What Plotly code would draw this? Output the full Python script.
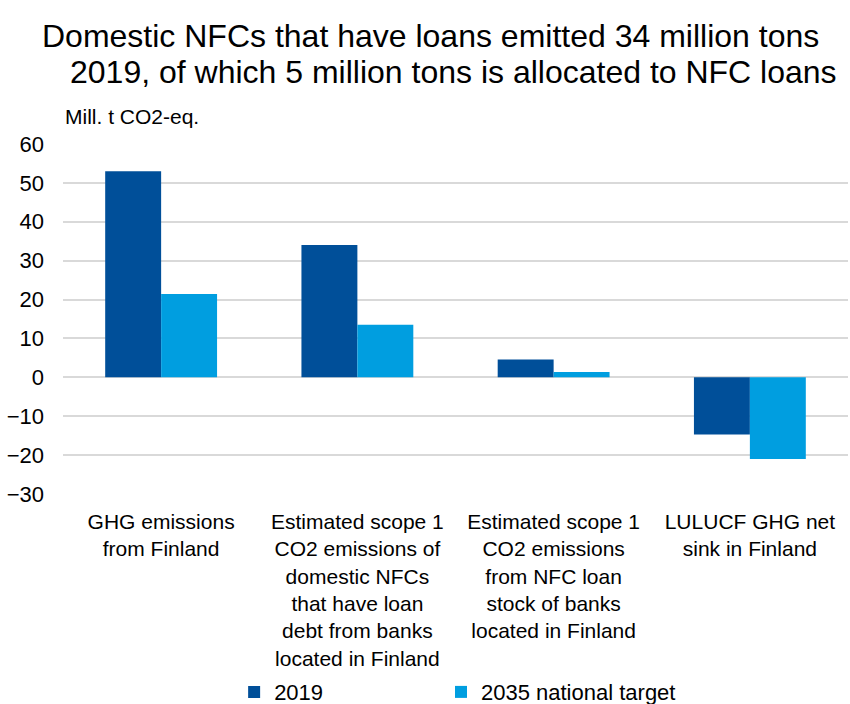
import plotly.graph_objects as go

# Categories and values (million tonnes CO2-eq.)
categories = [
    "GHG emissions<br>from Finland",
    "Estimated scope 1<br>CO2 emissions of<br>domestic NFCs<br>that have loan<br>debt from banks<br>located in Finland",
    "Estimated scope 1<br>CO2 emissions<br>from NFC loan<br>stock of banks<br>located in Finland",
    "LULUCF GHG net<br>sink in Finland",
]
values_2019 = [53.0, 34.0, 4.6, -14.7]
values_2035 = [21.4, 13.5, 1.4, -21.0]
series_names = ["2019", "2035 national target"]
y_ticks = [-30, -20, -10, 0, 10, 20, 30, 40, 50, 60]

DARK = "#004f99"
LIGHT = "#009ee0"
FONT = "Liberation Sans, Arial, sans-serif"

fig = go.Figure()
fig.add_trace(go.Bar(x=categories, y=values_2019, name=series_names[0], legend="legend",
                     marker=dict(color=DARK, line=dict(width=0))))
fig.add_trace(go.Bar(x=categories, y=values_2035, name=series_names[1], legend="legend2",
                     marker=dict(color=LIGHT, line=dict(width=0))))

legend_style = dict(orientation="h", xanchor="left", y=-0.566, yanchor="middle",
                    font=dict(family=FONT, size=22, color="#000000"),
                    itemclick=False, itemdoubleclick=False,
                    bgcolor="rgba(0,0,0,0)")

fig.update_layout(
    width=850, height=704,
    margin=dict(l=63, r=2, t=144, b=210, autoexpand=False),
    paper_bgcolor="white", plot_bgcolor="white",
    barmode="group", bargap=0.43, bargroupgap=0,
    font=dict(family=FONT, size=21, color="#000000"),
    showlegend=True,
    legend=dict(x=0.218, **legend_style),
    legend2=dict(x=0.4815, **legend_style),
)

fig.update_yaxes(range=[-30, 60], tickvals=y_ticks, showgrid=True,
                 gridcolor="#d9d9d9", gridwidth=1.5, zeroline=True,
                 zerolinecolor="#d9d9d9", zerolinewidth=1.5, automargin=False,
                 showline=False, ticks="", ticklabelstandoff=18,
                 tickfont=dict(family=FONT, size=22, color="#000000"))
fig.update_xaxes(showgrid=False, showline=False, ticks="", ticklabelstandoff=13,
                 automargin=False,
                 tickfont=dict(family=FONT, size=21, color="#000000"))

# Axis unit label above the plot
fig.add_annotation(text="Mill. t CO2-eq.", xref="paper", yref="paper",
                   x=0, y=1, xanchor="left", yanchor="bottom", yshift=14,
                   showarrow=False, font=dict(family=FONT, size=21, color="#000000"))

# Two-line headline
fig.add_annotation(text="Domestic NFCs that have loans emitted 34 million tons",
                   xref="paper", yref="paper", x=-23 / 785, y=1, xanchor="left",
                   yanchor="middle", yshift=144 - 36, showarrow=False,
                   font=dict(family=FONT, size=32, color="#000000"))
fig.add_annotation(text="2019, of which 5 million tons is allocated to NFC loans",
                   xref="paper", yref="paper", x=5 / 785, y=1, xanchor="left",
                   yanchor="middle", yshift=144 - 72, showarrow=False,
                   font=dict(family=FONT, size=32, color="#000000"))

fig.write_html("out.html")
